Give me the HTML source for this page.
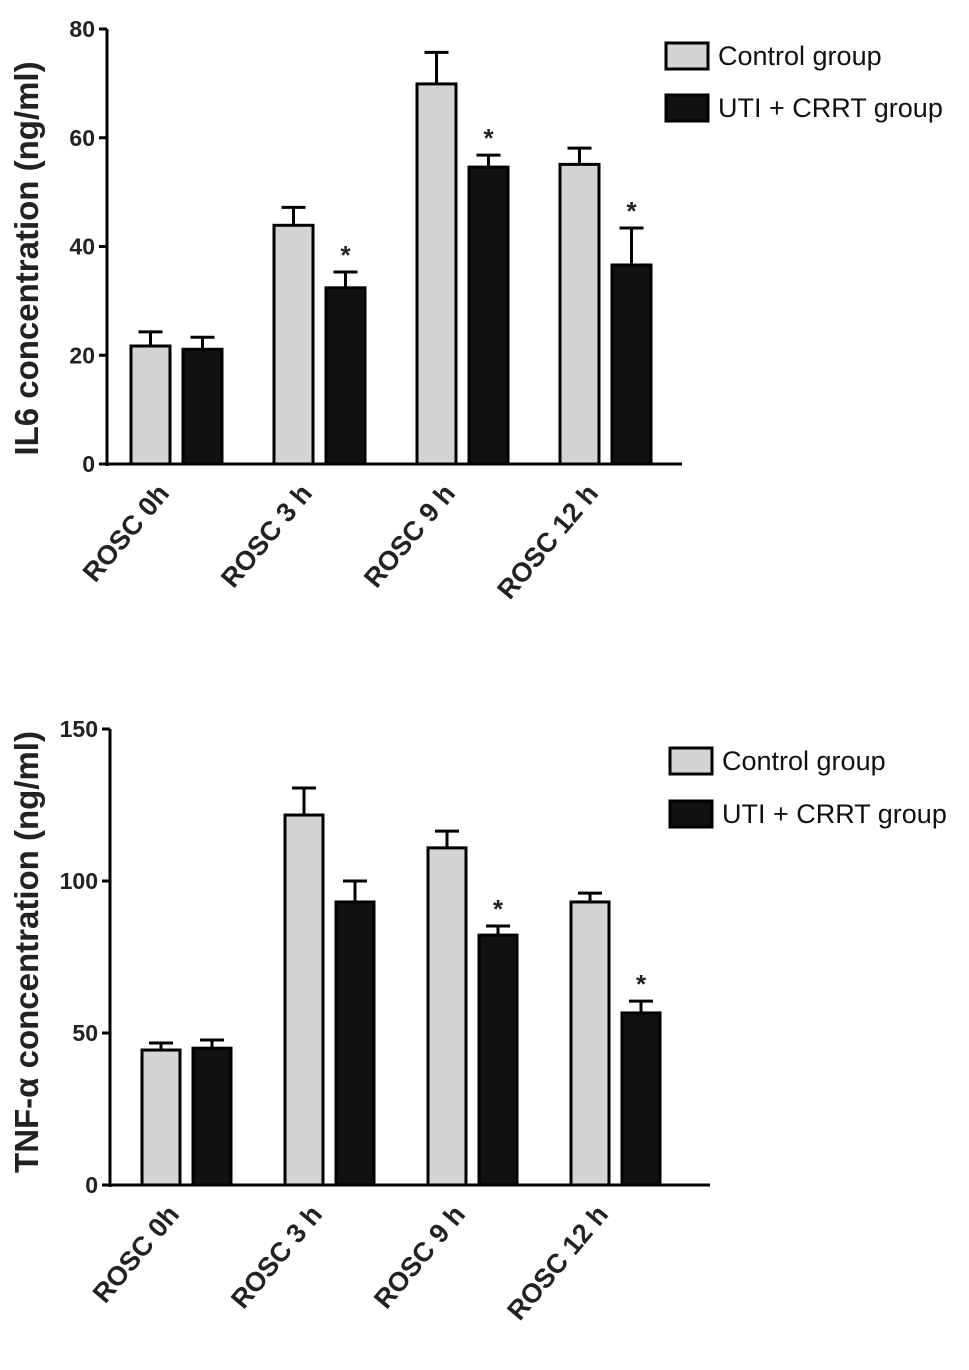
<!DOCTYPE html>
<html><head><meta charset="utf-8"><style>
html,body{margin:0;padding:0;background:#fff}
svg{display:block;font-family:"Liberation Sans",Arial,sans-serif}
</style></head><body>
<svg id="svg" width="969" height="1370" viewBox="0 0 969 1370"></svg>
<script>
const categories = ["ROSC 0h","ROSC 3 h","ROSC 9 h","ROSC 12 h"];
const categories2 = ["ROSC 0h","ROSC 3 h","ROSC 9 h","ROSC 12 h"];
const il6Control = [21.7, 43.9, 69.9, 55.1];
const il6ControlErr = [2.6, 3.3, 5.8, 3.0];
const il6Uti = [21.1, 32.4, 54.6, 36.6];
const il6UtiErr = [2.2, 2.9, 2.2, 6.8];
const il6Star = [false, true, true, true];
const il6Ticks = [0, 20, 40, 60, 80];
const tnfControl = [44.4, 121.7, 110.9, 93.1];
const tnfControlErr = [2.3, 8.9, 5.5, 2.9];
const tnfUti = [45.0, 93.1, 82.2, 56.6];
const tnfUtiErr = [2.7, 6.9, 3.0, 3.9];
const tnfStar = [false, false, true, true];
const tnfTicks = [0, 50, 100, 150];
const legendLabels = ["Control group", "UTI + CRRT group"];

const NS = "http://www.w3.org/2000/svg";
const svg = document.getElementById("svg");
function mk(tag, attrs, parent, text){
  const e = document.createElementNS(NS, tag);
  for (const k in attrs) e.setAttribute(k, attrs[k]);
  if (text !== undefined) e.textContent = text;
  (parent || svg).appendChild(e);
  return e;
}

function drawChart(cfg){
  const g = mk("g", {});
  
  
  const y = v => cfg.y0 - (v - 0) / cfg.max * (cfg.y0 - cfg.yTop);
  const ya = mk("line", {x1:cfg.ax, y1:cfg.yTop, x2:cfg.ax, y2:cfg.y0+2, stroke:"#000","stroke-width":3}, g);
  
  
  const xa = mk("line", {x1:cfg.ax-1, y1:cfg.y0, x2:cfg.axEnd, y2:cfg.y0, stroke:"#000","stroke-width":3}, g);
  
  
  cfg.ticks.forEach(t => {
    const ty = y(t);
    const tl = mk("line", {x1:cfg.ax-8, y1:ty, x2:cfg.ax, y2:ty, stroke:"#000","stroke-width":3}, g);
    
    
    const tx = mk("text", {x:cfg.ax-12, y:ty+8, "text-anchor":"end","font-size":23,"font-weight":"bold",fill:"#222"}, g, String(t));
    
    
  });
  cfg.cats.forEach((c, i) => {
    const gx = cfg.x0 + i * cfg.step;
    const series = [
      {v:cfg.control[i], e:cfg.controlErr[i], x:gx, fill:"#d4d4d4", name:"bar-control"},
      {v:cfg.uti[i], e:cfg.utiErr[i], x:gx + cfg.bw + cfg.gap, fill:"#111", name:"bar-uti"}
    ];
    series.forEach(s => {
      const top = y(s.v), et = y(s.v + s.e);
      const cx = s.x + cfg.bw/2;
      const el = mk("line", {x1:cx, y1:top, x2:cx, y2:et, stroke:"#000","stroke-width":3}, g);
      
      
      const cap = mk("line", {x1:cx-12, y1:et, x2:cx+12, y2:et, stroke:"#000","stroke-width":3}, g);
      
      
      const r = mk("rect", {x:s.x, y:top, width:cfg.bw, height:cfg.y0 - top, fill:s.fill, stroke:"#000","stroke-width":3}, g);
      
      
    });
    if (cfg.star[i]) {
      const sx = gx + cfg.bw + cfg.gap + cfg.bw/2;
      const st = mk("text", {x:sx, y:y(cfg.uti[i] + cfg.utiErr[i]) - 8, "text-anchor":"middle","font-size":26,"font-weight":"bold",fill:"#222"}, g, "*");
      
      
    }
    const lx = gx + cfg.bw + cfg.gap/2 - 6, ly = cfg.y0 + 30;
    const lab = mk("text", {x:lx, y:ly, "text-anchor":"end","font-size":27,"font-weight":"bold",fill:"#222", transform:`rotate(-50 ${lx} ${ly})`}, g, c);
    
    
  });
  const tx = 38, tyc = (cfg.yTop + cfg.y0)/2 + cfg.titleOff;
  const yt = mk("text", {x:tx, y:tyc, "text-anchor":"middle","font-size":cfg.titleSize,"font-weight":"bold",fill:"#222", transform:`rotate(-90 ${tx} ${tyc})`, "xml:space":"preserve"}, g, cfg.title);
  
  
  const fills = ["#d4d4d4", "#111"];
  legendLabels.forEach((l, i) => {
    const ly = cfg.legY + i * cfg.legStep;
    const lg = mk("g", {}, g);
    
    
    mk("rect", {x:cfg.legX, y:ly, width:42, height:26, fill:fills[i], stroke:"#000","stroke-width":3}, lg);
    mk("text", {x:cfg.legX + 52, y:ly + 22, "font-size":27, fill:"#111", "font-weight":"500"}, lg, l);
  });
}

drawChart({name:"il6-chart", cats:categories, control:il6Control, controlErr:il6ControlErr, uti:il6Uti, utiErr:il6UtiErr, star:il6Star, ticks:il6Ticks,
  max:80, y0:464, yTop:29, ax:107, axEnd:682, x0:131, step:143, bw:39, gap:13,
  title:"IL6 concentration (ng/ml)", titleSize:33, titleOff:12, legX:666, legY:43, legStep:52});
drawChart({name:"tnf-chart", cats:categories2, control:tnfControl, controlErr:tnfControlErr, uti:tnfUti, utiErr:tnfUtiErr, star:tnfStar, ticks:tnfTicks,
  max:150, y0:1185, yTop:729, ax:110, axEnd:710, x0:142, step:143, bw:38, gap:13,
  title:"TNF-α  concentration (ng/ml)", titleSize:33, titleOff:-5, legX:670, legY:748, legStep:53});
</script>
</body></html>
